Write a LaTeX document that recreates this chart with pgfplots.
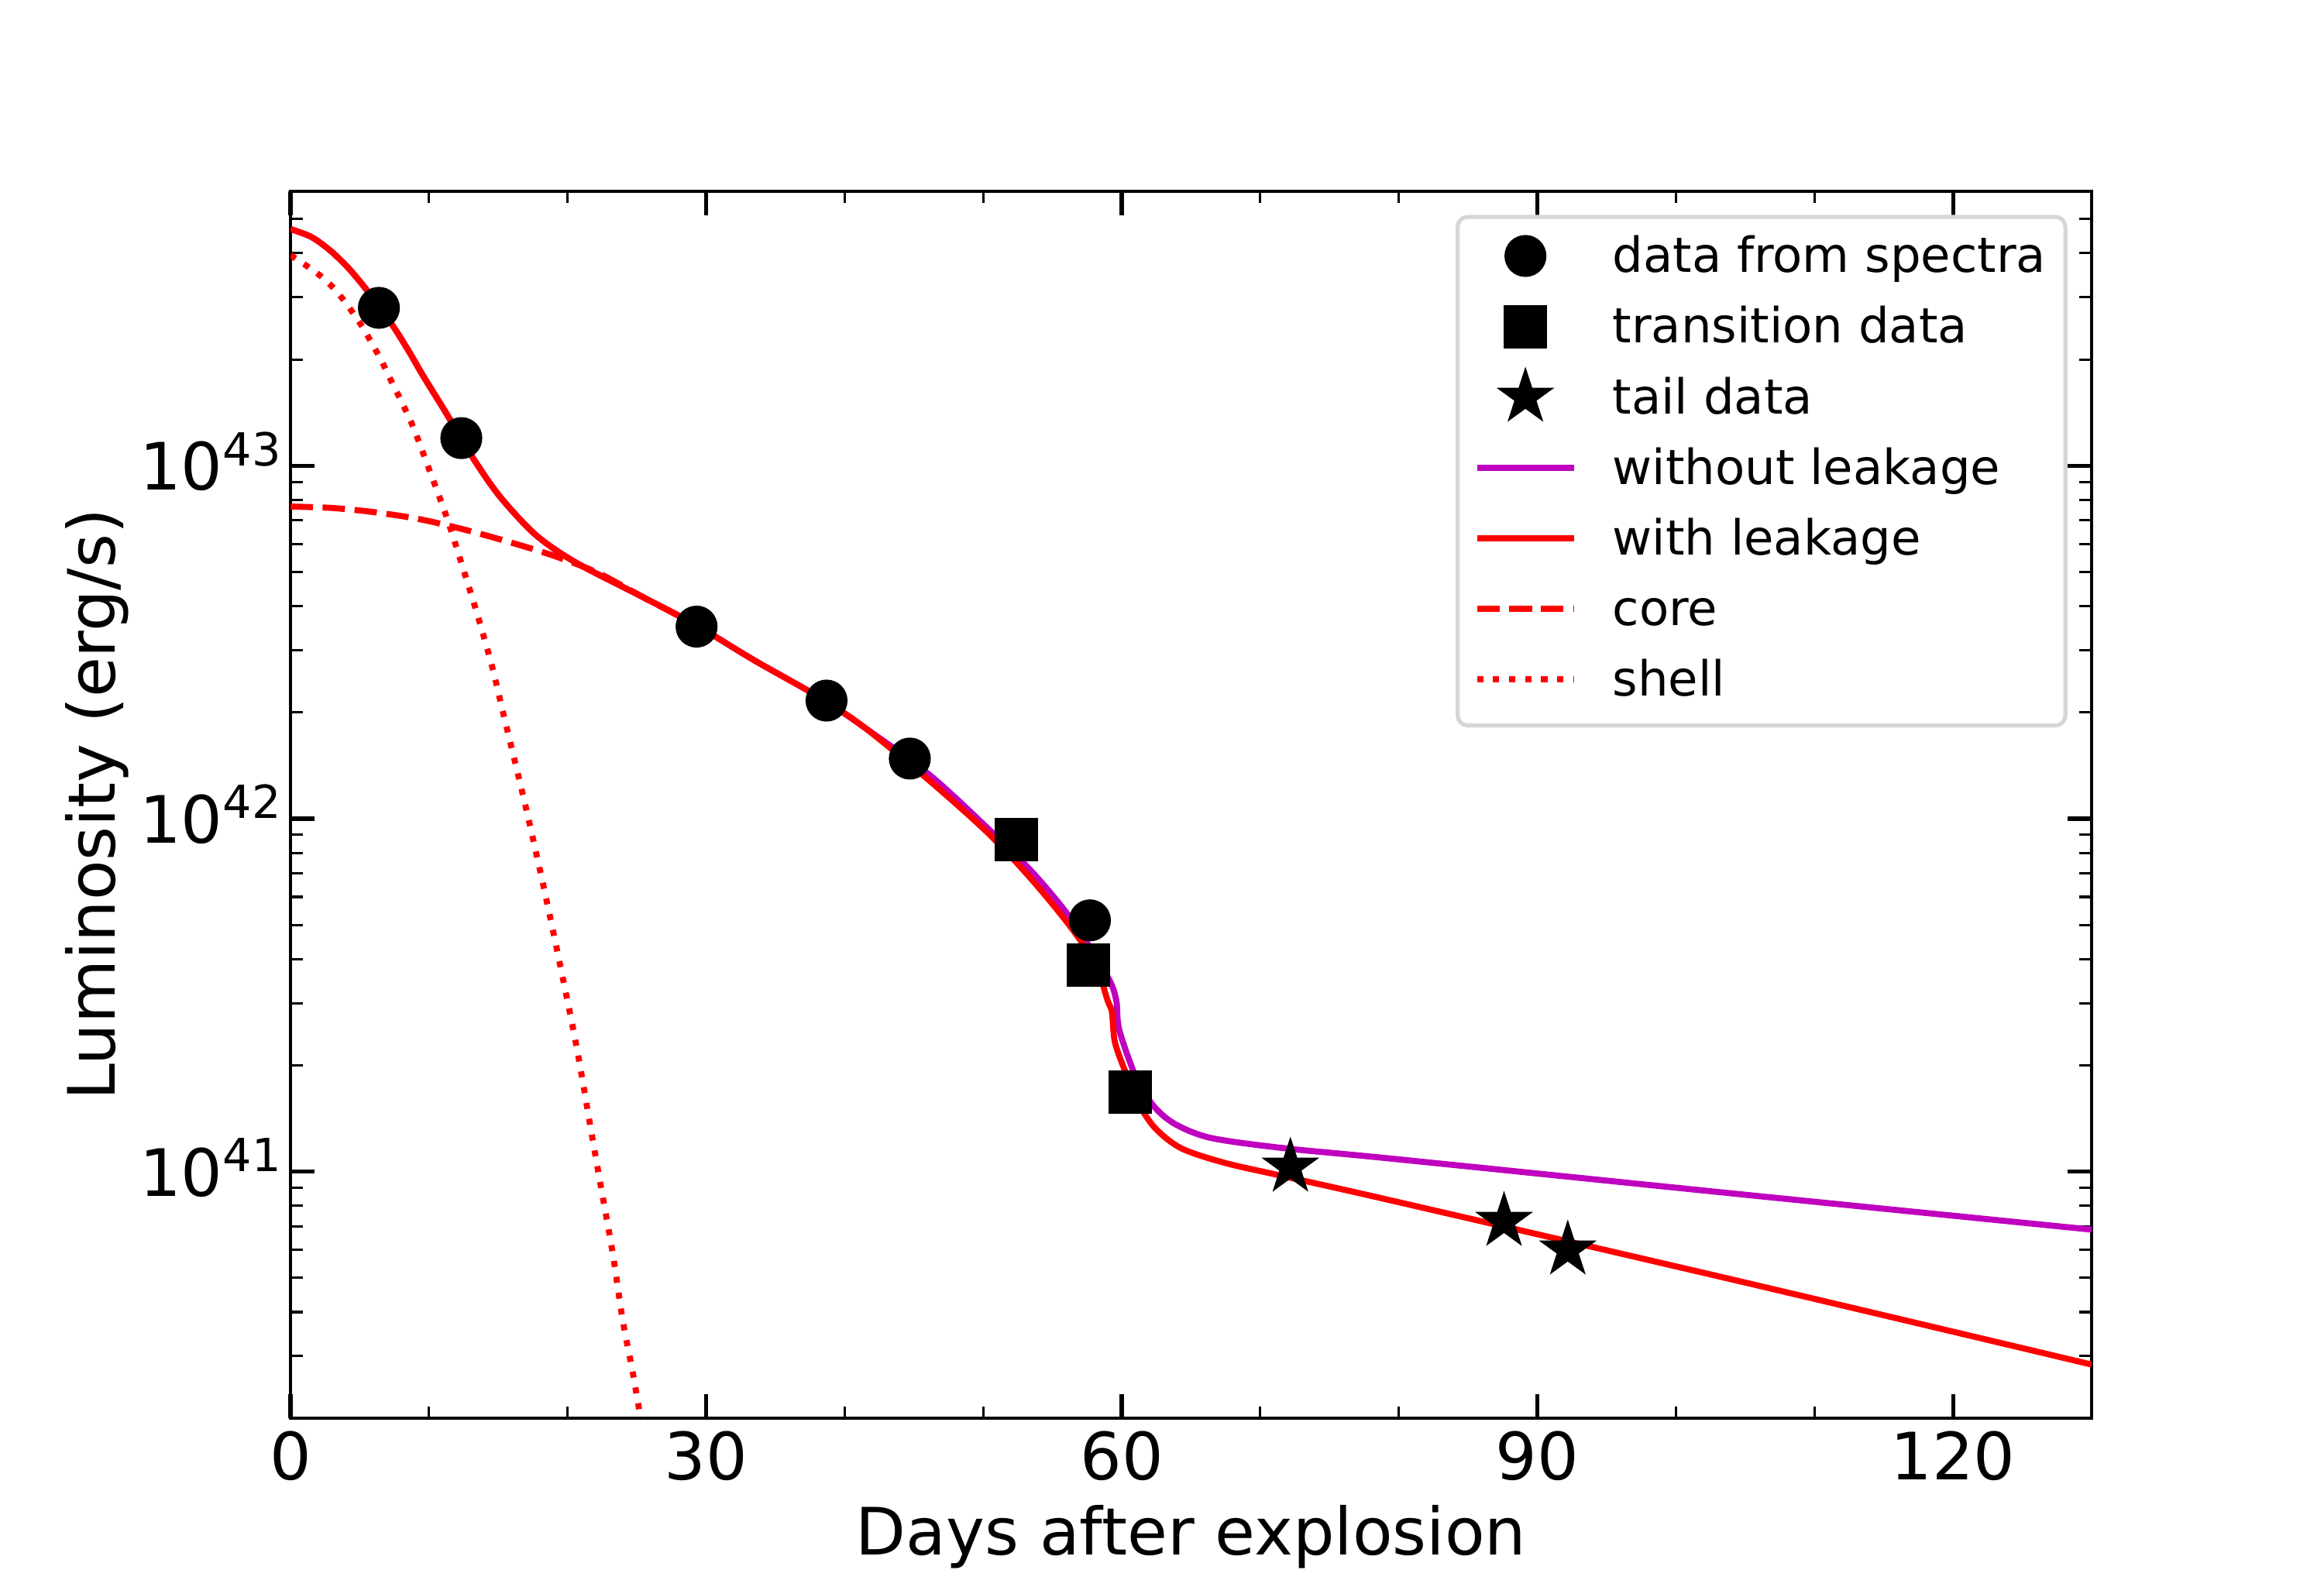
\documentclass[border=0pt]{standalone}
\usepackage{fontspec}
\setmainfont{DejaVu Sans}
\usepackage{pgfplots}
\pgfplotsset{compat=1.18}
\usetikzlibrary{plotmarks}

\definecolor{mred}{RGB}{255,0,0}
\definecolor{mmag}{RGB}{191,0,191}
\definecolor{lgframe}{RGB}{214,214,214}

\pgfdeclareplotmark{fstar}{%
  \pgfpathmoveto{\pgfpointpolar{90}{\pgfplotmarksize}}%
  \pgfpathlineto{\pgfpointpolar{126}{0.382\pgfplotmarksize}}%
  \pgfpathlineto{\pgfpointpolar{162}{\pgfplotmarksize}}%
  \pgfpathlineto{\pgfpointpolar{198}{0.382\pgfplotmarksize}}%
  \pgfpathlineto{\pgfpointpolar{234}{\pgfplotmarksize}}%
  \pgfpathlineto{\pgfpointpolar{270}{0.382\pgfplotmarksize}}%
  \pgfpathlineto{\pgfpointpolar{306}{\pgfplotmarksize}}%
  \pgfpathlineto{\pgfpointpolar{342}{0.382\pgfplotmarksize}}%
  \pgfpathlineto{\pgfpointpolar{18}{\pgfplotmarksize}}%
  \pgfpathlineto{\pgfpointpolar{54}{0.382\pgfplotmarksize}}%
  \pgfpathclose
  \pgfusepathqfillstroke
}

\newcommand{\tl}[1]{10\raisebox{6.1pt}{\fontsize{11.3}{12}\selectfont #1}}

\pgfplotsset{
  myleg/.style={legend image code/.code={%
    \draw[overlay,sharp corners,mark repeat=2,mark phase=2,##1] plot coordinates {(0pt,4.1pt)(12pt,4.1pt)(24pt,4.1pt)};
    \path[draw=none,fill=none] (0pt,-3.3pt) rectangle (24pt,9.8pt);}},
}

\pgfplotstableread{
x y
6.38 2.80e43
12.33 1.197e43
29.31 3.50e42
38.69 2.16e42
44.7 1.48e42
57.7 5.15e41
}\spectra

\pgfplotstableread{
x y
52.37 8.73e41
57.6 3.85e41
60.6 1.68e41
}\transition

\pgfplotstableread{
x y
72.17 1.03e41
87.59 7.23e40
92.19 6.00e40
}\tail

\pgfplotstableread{
x y
0 4.68e43
1.49 4.45e43
2.80 4.09e43
4.10 3.66e43
5.41 3.18e43
6.43 2.80e43
7.45 2.47e43
8.57 2.10e43
9.60 1.79e43
11.28 1.40e43
13.2 1.047e43
15.12 8.17e42
17.69 6.37e42
20.58 5.32e42
25.4 4.25e42
29.25 3.54e42
33.4 2.82e42
38.24 2.20e42
41.45 1.81e42
46.13 1.33e42
50.4 9.33e41
53.62 7.0e41
56.4 5.16e41
58.97 3.57e41
59.6 3.06e41
59.82 2.52e41
61.1 1.82e41
62.39 1.52e41
63.9 1.36e41
66.46 1.245e41
71.8 1.164e41
79.7 1.086e41
104.6 8.63e40
130 6.85e40
}\without

\pgfplotstableread{
x y
0 4.68e43
1.49 4.45e43
2.80 4.09e43
4.10 3.66e43
5.41 3.18e43
6.43 2.80e43
7.45 2.47e43
8.57 2.10e43
9.60 1.79e43
11.28 1.40e43
13.2 1.047e43
15.12 8.17e42
17.69 6.37e42
20.58 5.32e42
25.4 4.25e42
29.25 3.54e42
33.4 2.82e42
38.24 2.20e42
41.45 1.81e42
46.13 1.28e42
50.4 9.06e41
53.62 6.64e41
56.4 4.88e41
58.1 3.86e41
58.97 3.06e41
59.29 2.83e41
59.5 2.33e41
60.25 1.92e41
61.1 1.585e41
62.39 1.33e41
64.3 1.164e41
67.5 1.057e41
71.8 9.68e40
79.7 8.24e40
104.6 4.89e40
130 2.84e40
}\withleak

\pgfplotstableread{
x y
0 7.66e42
3.0 7.59e42
6.1 7.38e42
9.35 7.05e42
12.56 6.59e42
15.77 6.08e42
18.98 5.56e42
22.19 4.97e42
25.4 4.25e42
29.25 3.54e42
}\core

\pgfplotstableread{
x y
0 3.95e43
1.27 3.66e43
2.24 3.43e43
3.13 3.18e43
3.91 2.92e43
4.62 2.67e43
5.31 2.43e43
5.93 2.20e43
6.52 2.00e43
7.08 1.80e43
8.7 1.33e43
10.05 9.66e42
11.28 7.13e42
12.4 5.20e42
13.52 3.75e42
14.55 2.70e42
15.38 1.97e42
16.93 1.10e42
18.53 5.75e41
20.52 2.40e41
21.72 1.29e41
22.36 9.27e40
23.25 5.89e40
23.96 3.83e40
24.67 2.74e40
25.28 2.00e40
25.6 1.75e40
}\shell

\begin{document}
\begin{tikzpicture}
\useasboundingbox (0,0) rectangle (576pt,395.1pt);
\begin{axis}[
  at={(72pt,43.46pt)}, anchor=south west,
  scale only axis, width=446.4pt, height=304.23pt,
  xmin=0, xmax=130, ymode=log, ymin=2e40, ymax=6e43,
  xtick={0,30,60,90,120},
  minor xtick={10,20,40,50,70,80,100,110},
  ytick={1e41,1e42,1e43},
  yticklabels={\tl{41},\tl{42},\tl{43}},
  minor ytick={3e40,4e40,5e40,6e40,7e40,8e40,9e40,2e41,3e41,4e41,5e41,6e41,7e41,8e41,9e41,2e42,3e42,4e42,5e42,6e42,7e42,8e42,9e42,2e43,3e43,4e43,5e43},
  tick align=inside, xtick pos=both, ytick pos=both,
  major tick length=6pt, minor tick length=3pt,
  major tick style={line width=1pt, black},
  minor tick style={line width=0.6pt, black},
  axis line style={line width=0.8pt},
  tick label style={font=\fontsize{16.2}{19}\selectfont, inner sep=0pt},
  /pgf/number format/assume math mode=true,
  xticklabel style={anchor=base, yshift=-15.2pt},
  yticklabel style={anchor=base east, xshift=-2.2pt, yshift=-6.1pt},
  xlabel={Days after explosion},
  ylabel={Luminosity (erg/s)},
  label style={font=\fontsize{16.2}{19}\selectfont},
  xlabel style={at={(axis description cs:0.5,-0.11144)}, anchor=base},
  ylabel style={at={(axis description cs:-0.09745,0.5)}, anchor=base},
  legend style={
    at={(rel axis cs:1,1)}, anchor=north east, xshift=-6pt, yshift=-5.9pt,
    draw=lgframe, line width=1pt, rounded corners=2.5pt, fill=white,
    font=\fontsize{12}{14}\selectfont,
    inner xsep=4.8pt, inner ysep=4pt,
    row sep=4.4pt, column sep=9.6pt,
    nodes={inner sep=0pt, text height=9.8pt, text depth=3.3pt},
    cells={anchor=base west},
  },
]
\addplot[only marks, mark=*, mark size=5pt, black, mark options={fill=black, line width=0.4pt}, myleg] table {\spectra};
\addlegendentry{data from spectra}
\addplot[only marks, mark=square*, mark size=5.2pt, black, mark options={fill=black, line width=0.4pt}, myleg] table {\transition};
\addlegendentry{transition data}
\addplot[only marks, mark=fstar, mark size=6.9pt, black, mark options={fill=black, line width=0.4pt}, myleg] table {\tail};
\addlegendentry{tail data}
\addplot[mmag, line width=1.5pt, smooth, myleg] table {\without};
\addlegendentry{without leakage}
\addplot[mred, line width=1.5pt, smooth, myleg] table {\withleak};
\addlegendentry{with leakage}
\addplot[mred, line width=1.5pt, smooth, dash pattern=on 5.55pt off 2.4pt, myleg] table {\core};
\addlegendentry{core}
\addplot[mred, line width=1.5pt, smooth, dash pattern=on 1.5pt off 2.475pt, myleg] table {\shell};
\addlegendentry{shell}
\end{axis}
\end{tikzpicture}
\end{document}
